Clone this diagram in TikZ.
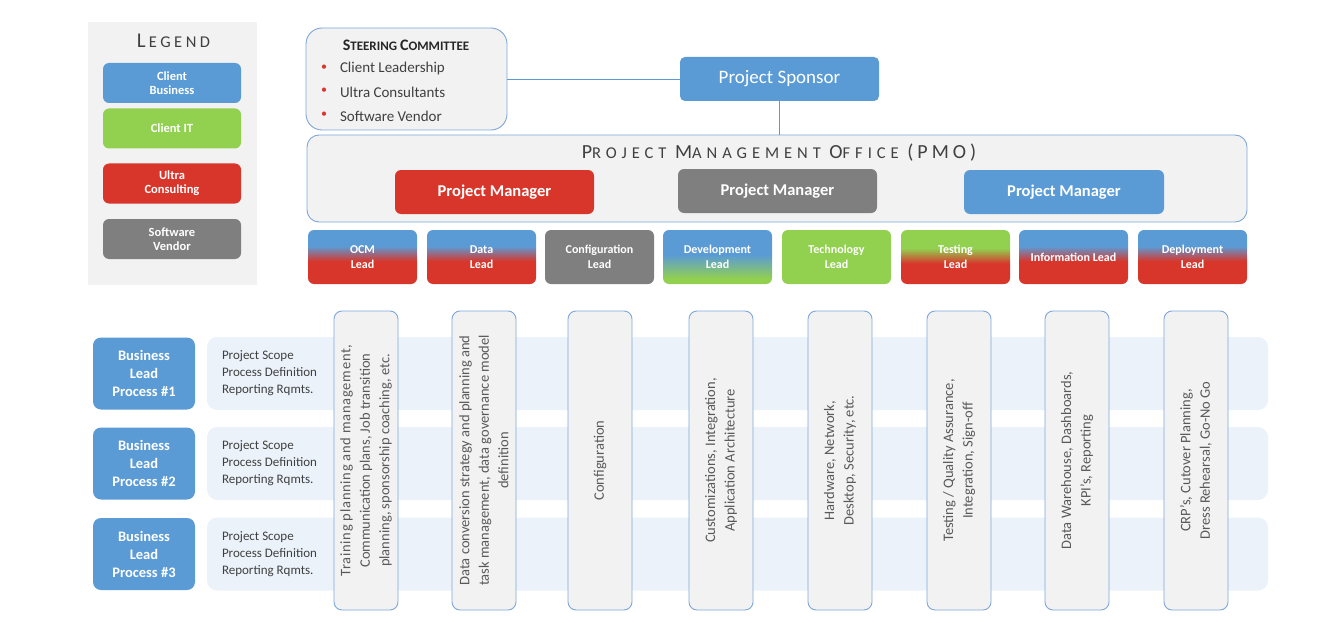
\documentclass[tikz,border=0pt]{standalone}
\usepackage{fontspec}
\setmainfont{Carlito}
\newfontfamily\tracked[LetterSpace=20]{Carlito}
\newfontfamily\widetracked[LetterSpace=30]{Carlito}
\newfontfamily\looser[LetterSpace=5]{Carlito}

\definecolor{cblue}{HTML}{5B9BD5}
\definecolor{cgreen}{HTML}{92D050}
\definecolor{cred}{HTML}{D8362B}
\definecolor{cgray}{HTML}{7F7F7F}
\definecolor{panel}{HTML}{F2F2F2}
\definecolor{edge}{HTML}{7DA7D9}
\definecolor{band}{HTML}{EBF2FA}
\definecolor{ink}{HTML}{404040}
\definecolor{colink}{HTML}{595959}

% two-colour lead boxes: top colour above, bottom colour below
\pgfdeclareverticalshading{bluetored}{100bp}{color(0bp)=(cred); color(46bp)=(cred); color(60bp)=(cblue); color(100bp)=(cblue)}
\pgfdeclareverticalshading{bluetogreen}{100bp}{color(0bp)=(cgreen); color(30bp)=(cgreen); color(52bp)=(cblue); color(100bp)=(cblue)}
\pgfdeclareverticalshading{greentored}{100bp}{color(0bp)=(cred); color(44bp)=(cred); color(58bp)=(cgreen); color(100bp)=(cgreen)}

\newcommand\fs[2]{\fontsize{#1}{#2}\selectfont}

\begin{document}
\begin{tikzpicture}[x=1pt,y=-1pt,
  every node/.style={inner sep=0pt,outer sep=0pt},
  solidbox/.style={fill=#1,rounded corners=6pt,text=white,align=center},
  keybox/.style={solidbox=#1,minimum width=138pt,minimum height=40pt,font=\bfseries\fs{12.5}{14}},
  pmbox/.style={solidbox=#1,minimum width=199pt,minimum height=44pt,font=\bfseries\fs{16.5}{18}},
  leadbox/.style={rounded corners=6pt,text=white,align=center,minimum width=109pt,minimum height=54pt,font=\bfseries\fs{12}{14.5}},
  panelbox/.style={fill=panel,draw=edge,line width=0.9pt},
  bandbox/.style={fill=band,rounded corners=10pt,minimum width=1061pt,minimum height=73pt},
  bizbox/.style={solidbox=cblue,rounded corners=8pt,minimum width=102pt,minimum height=72pt,font=\bfseries\fs{14.5}{18}},
  scopetext/.style={anchor=west,align=left,text=ink,font=\fs{13}{17}},
  colbox/.style={panelbox,rounded corners=8pt,rotate=90,minimum width=299pt,minimum height=64pt,align=center,text=colink,font=\fs{14.5}{19.5}},
  link/.style={draw=cblue,line width=0.9pt}]

\useasboundingbox (0,0) rectangle (1344,623);

% legend
\node[fill=panel,minimum width=169pt,minimum height=263pt] (legend) at (172.5,153.5) {};
\node[text=ink] (legendtitle) at (173.5,41) {\fs{21}{21}L\kern3pt\fs{16.5}{16.5}E\kern3.5pt G\kern3.5pt E\kern3.5pt N\kern3.5pt D};
\node[keybox=cblue] (kbiz) at (172,83) {Client\\Business};
\node[keybox=cgreen] (kit) at (172,128.5) {Client IT};
\node[keybox=cred] (kultra) at (172,183.5) {Ultra\\Consulting};
\node[keybox=cgray] (kvendor) at (172,239) {Software\\Vendor};

% steering committee and sponsor
\node[panelbox,rounded corners=16pt,minimum width=201pt,minimum height=102pt] (steer) at (406.5,79) {};
\node[text=black!85] (steertitle) at (406,45) {\bfseries\fs{16}{16}S\fs{13}{13}TEERING \fs{16}{16}C\fs{13}{13}OMMITTEE};
\foreach \y/\t [count=\i] in {68/Client Leadership,91/Ultra Consultants,115/Software Vendor}{
  \node[text=cred,font=\fs{12}{12}] (dot\i) at (324,\y) {\textbullet};
  \node[anchor=west,text=ink,font=\fs{15}{15}] (member\i) at (340,\y+1) {\t};
}
\node[solidbox=cblue,rounded corners=5pt,minimum width=199pt,minimum height=44pt,font=\fs{19}{19}] (sponsor) at (779.5,79) {\raisebox{-2pt}{Project Sponsor}};
\draw[link] (steer.east) -- (sponsor.west);

% project management office
\node[panelbox,rounded corners=12pt,minimum width=940pt,minimum height=87pt] (pmo) at (777,178.5) {};
\draw[link] (sponsor.south) -- (sponsor.south |- pmo.north);
\node[text=ink] (pmotitle) at (779,153) {\tracked\fs{20}{20}P\widetracked\fs{16.5}{16.5}ROJECT \tracked\fs{20}{20}M\widetracked\fs{16.5}{16.5}ANAGEMENT \tracked\fs{20}{20}O\widetracked\fs{16.5}{16.5}FFICE \tracked\fs{20}{20}(PMO)};
\node[pmbox=cred] (pm1) at (494.5,192) {Project Manager};
\node[pmbox=cgray] (pm2) at (777.5,191) {Project Manager};
\node[pmbox=cblue,minimum width=200pt] (pm3) at (1064,192) {Project Manager};

% workstream leads
\node[leadbox,shading=bluetored] (ocm) at (362.5,257) {OCM\\Lead};
\node[leadbox,shading=bluetored] (data) at (481.5,257) {Data\\Lead};
\node[leadbox,fill=cgray] (config) at (599.5,257) {Configuration\\Lead};
\node[leadbox,shading=bluetogreen] (dev) at (717.5,257) {Development\\Lead};
\node[leadbox,fill=cgreen] (tech) at (836.5,257) {Technology\\Lead};
\node[leadbox,shading=greentored] (test) at (955.5,257) {Testing\\Lead};
\node[leadbox,shading=bluetored] (info) at (1073.5,257) {Information Lead};
\node[leadbox,shading=bluetored] (deploy) at (1192.5,257) {Deployment\\Lead};

% business process rows
\foreach \y [count=\i] in {373.5,463.5,554}{
  \node[bandbox] (band\i) at (737.5,\y) {};
  \node[bizbox] (biz\i) at (144,\y) {Business\\Lead\\Process \#\i};
  \node[scopetext] (scope\i) at (222,\y) {Project Scope\\Process Definition\\Reporting Rqmts.};
}

% workstream columns
\node[colbox] (col1) at (366,460.5) {\looser Training planning and management,\\Communication plans, Job transition\\planning, sponsorship coaching, etc.};
\node[colbox] (col2) at (484,460.5) {Data conversion strategy and planning and\\task management, data governance model\\definition};
\node[colbox] (col3) at (600,460.5) {Configuration};
\node[colbox] (col4) at (721,460.5) {Customizations, Integration,\\Application Architecture};
\node[colbox] (col5) at (840,460.5) {Hardware, Network,\\Desktop, Security, etc.};
\node[colbox] (col6) at (959,460.5) {Testing / Quality Assurance,\\Integration, Sign-off};
\node[colbox] (col7) at (1077,460.5) {Data Warehouse, Dashboards,\\KPI's, Reporting};
\node[colbox] (col8) at (1196,460.5) {CRP's, Cutover Planning,\\Dress Rehearsal, Go-No Go};

\end{tikzpicture}
\end{document}
